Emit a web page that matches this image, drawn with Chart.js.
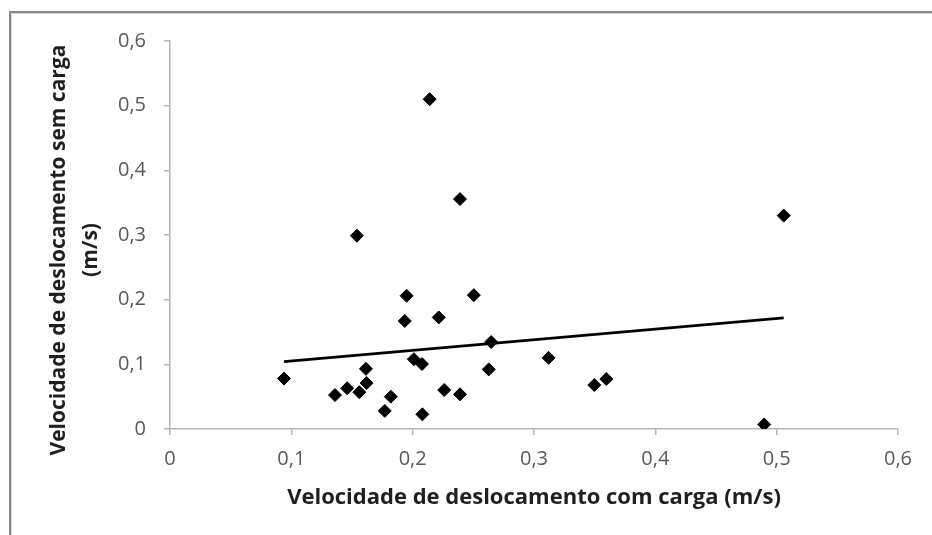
<!DOCTYPE html>
<html>
<head>
<meta charset="utf-8">
<script src="https://cdn.jsdelivr.net/npm/chart.js@4.4.1/dist/chart.umd.min.js"></script>
<style>
  html, body { margin: 0; padding: 0; background: #ffffff; }
  #wrap { position: relative; width: 932px; height: 535px; overflow: hidden; background: #ffffff; }
  #frame { position: absolute; left: 9px; top: 11px; width: 1000px; height: 600px;
           border-left: 2px solid #8a8a8a; border-top: 2px solid #8a8a8a; box-sizing: border-box; }
  #frame2 { position: absolute; left: 11px; top: 13px; width: 1000px; height: 600px;
           border-left: 1px solid #d6d6d6; border-top: 1px solid #d6d6d6; box-sizing: border-box; }
  canvas { position: absolute; left: 0; top: 0; }
</style>
</head>
<body>
<div id="wrap">
  <div id="frame"></div>
  <div id="frame2"></div>
  <canvas id="c" width="932" height="535"></canvas>
</div>
<script>
// Velocidade de deslocamento com carga (m/s)
const xValues = [0.094, 0.136, 0.146, 0.154, 0.156, 0.162, 0.1615, 0.177, 0.182, 0.1935,
                 0.195, 0.201, 0.2077, 0.208, 0.214, 0.2215, 0.226, 0.239, 0.239, 0.2504,
                 0.2627, 0.2647, 0.312, 0.3497, 0.3596, 0.4897, 0.5058];
// Velocidade de deslocamento sem carga (m/s)
const yValues = [0.078, 0.0525, 0.063, 0.299, 0.057, 0.071, 0.093, 0.028, 0.050, 0.167,
                 0.206, 0.108, 0.1005, 0.0227, 0.510, 0.1726, 0.0603, 0.0536, 0.3555, 0.207,
                 0.0922, 0.1345, 0.110, 0.068, 0.0773, 0.007, 0.330];
// linear trend line end points
const trendX = [0.094, 0.5058];
const trendY = [0.1042, 0.1718];
// axis ticks
const xTickValues = [0, 0.1, 0.2, 0.3, 0.4, 0.5, 0.6];
const yTickValues = [0, 0.1, 0.2, 0.3, 0.4, 0.5, 0.6];
const xTitle = 'Velocidade de deslocamento com carga (m/s)';
const yTitle = ['Velocidade de deslocamento sem carga', '(m/s)'];

const fmt = v => (Math.abs(v) < 1e-9 ? '0' : v.toFixed(1).replace('.', ','));

const points = xValues.map((x, i) => ({ x: x, y: yValues[i] }));
const trend = trendX.map((x, i) => ({ x: x, y: trendY[i] }));

const axisColor = '#b5b5b5';
const titleColor = '#1f1f1f';
const tickFont = { family: 'Open Sans', size: 20 };
const titleFont = { family: 'Open Sans', size: 22, weight: 'bold' };

// vertical (two-line) title of the y axis, drawn as canvas text
const yAxisTitle = {
  id: 'yAxisTitle',
  afterDraw(chart) {
    const ctx = chart.ctx;
    const area = chart.chartArea;
    ctx.save();
    ctx.font = 'bold 21px "Open Sans"';
    ctx.fillStyle = titleColor;
    ctx.textAlign = 'center';
    ctx.textBaseline = 'middle';
    ctx.translate(59, (area.top + area.bottom) / 2 + 15);
    ctx.rotate(-Math.PI / 2);
    ctx.fillText(yTitle[0], 0, 0);
    ctx.fillText(yTitle[1], 0, 32);
    ctx.restore();
  }
};

new Chart(document.getElementById('c'), {
  type: 'scatter',
  data: {
    datasets: [
      {
        label: 'dados',
        data: points,
        pointStyle: 'rectRot',
        pointRadius: 6.5,
        pointBackgroundColor: '#000000',
        pointBorderColor: '#000000',
        pointBorderWidth: 1,
        showLine: false,
        order: 2
      },
      {
        label: 'tendência',
        data: trend,
        type: 'line',
        showLine: true,
        borderColor: '#000000',
        borderWidth: 2.6,
        pointRadius: 0,
        fill: false,
        order: 1
      }
    ]
  },
  options: {
    responsive: false,
    animation: false,
    events: [],
    layout: { padding: { left: 18, right: 34, top: 41, bottom: 20 } },
    plugins: { legend: { display: false }, tooltip: { enabled: false } },
    scales: {
      x: {
        type: 'linear', min: 0, max: 0.6,
        afterBuildTicks: s => { s.ticks = xTickValues.map(v => ({ value: v })); },
        afterFit: s => { s.height = 535 - 429 - 20; },
        ticks: { callback: fmt, color: '#595959', font: tickFont, padding: 12, maxRotation: 0 },
        grid: { drawOnChartArea: false, drawTicks: true, tickLength: 6, color: axisColor, lineWidth: 1.5 },
        border: { color: axisColor, width: 1.5 },
        title: { display: true, text: xTitle, color: titleColor, font: titleFont, padding: { top: 4 } }
      },
      y: {
        type: 'linear', min: 0, max: 0.6,
        afterBuildTicks: s => { s.ticks = yTickValues.map(v => ({ value: v })); },
        afterFit: s => { s.width = 170 - 18; },
        ticks: { callback: fmt, color: '#595959', font: tickFont, padding: 18 },
        grid: { drawOnChartArea: false, drawTicks: true, tickLength: 6, color: axisColor, lineWidth: 1.5 },
        border: { color: axisColor, width: 1.5 },
        title: { display: false }
      }
    }
  },
  plugins: [yAxisTitle]
});
</script>
</body>
</html>
